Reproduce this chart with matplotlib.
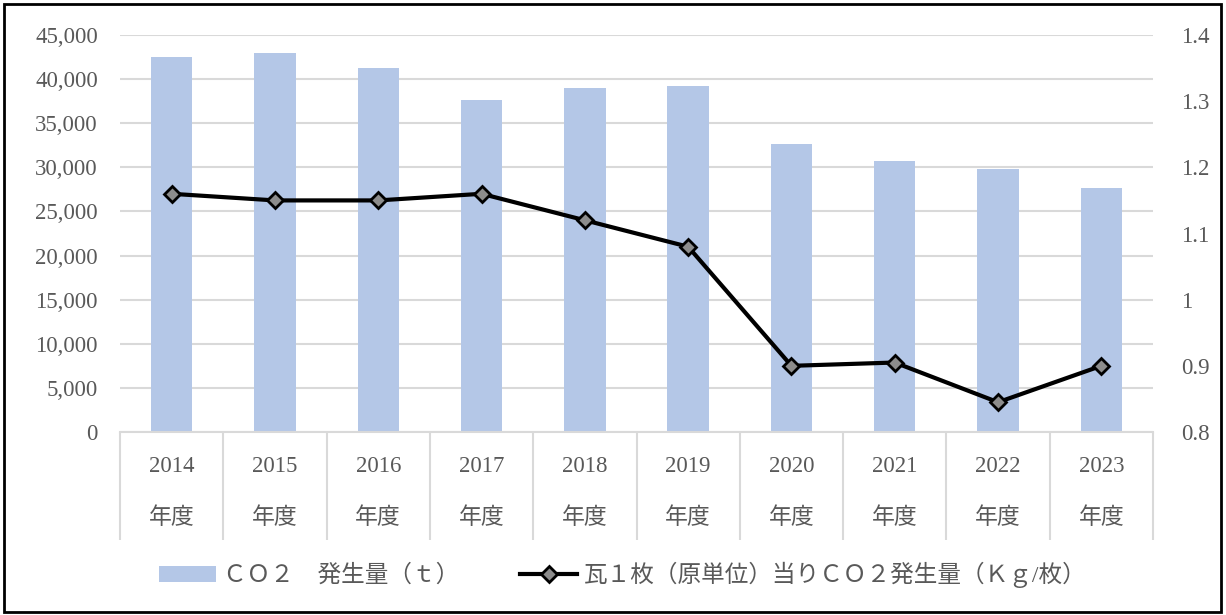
import numpy as np
import matplotlib
matplotlib.use('Agg')
import matplotlib.pyplot as plt
from matplotlib.patches import Rectangle

plt.rcParams['font.family'] = ['Liberation Serif', 'Noto Sans CJK JP', 'DejaVu Sans']

# ---- données ----
years = ['2014', '2015', '2016', '2017', '2018', '2019', '2020', '2021', '2022', '2023']
co2_t = [42500, 43000, 41300, 37600, 39000, 39200, 32700, 30700, 29800, 27700]
co2_per_tile = [1.16, 1.15, 1.15, 1.16, 1.12, 1.08, 0.90, 0.905, 0.845, 0.90]
bar_label = 'ＣＯ２　発生量（ｔ）'
line_label = '瓦１枚（原単位）当りＣＯ２発生量（Ｋｇ/枚）'
left_ticks = np.arange(0, 45001, 5000)
right_ticks = [0.8, 0.9, 1.0, 1.1, 1.2, 1.3, 1.4]
right_tick_labels = ['0.8', '0.9', '1', '1.1', '1.2', '1.3', '1.4']

grey_txt = '#595959'
grid_c = '#d9d9d9'

fig = plt.figure(figsize=(12.26, 6.15), dpi=100)
ax = fig.add_axes([120/1226, 1 - 432/615, (1153 - 120)/1226, (432 - 35)/615])
x = np.arange(len(years))

ax.bar(x, co2_t, width=0.4, color='#b4c7e7', zorder=2, label=bar_label)
ax.set_ylim(0, 45000)
ax.set_xlim(-0.5, len(years) - 0.5)
ax.set_yticks(left_ticks)
ax.set_yticklabels([f'{v:,}' for v in left_ticks])
ax.yaxis.grid(True, color=grid_c, linewidth=1.5, zorder=0)
ax.set_axisbelow(True)
for s in ['top', 'left', 'right']:
    ax.spines[s].set_visible(False)
ax.spines['bottom'].set_color(grid_c)
ax.spines['bottom'].set_linewidth(1.5)
ax.tick_params(axis='y', length=0, pad=16, labelsize=16.5, labelcolor=grey_txt)

# étiquettes de catégorie sur deux lignes + séparateurs verticaux
ax.set_xticks(x)
ax.set_xticklabels([f'{y}\n年度' for y in years])
ax.set_xticks(np.arange(-0.5, len(years)), minor=True)
ax.tick_params(axis='x', which='major', length=0, pad=17, labelsize=16.5, labelcolor=grey_txt)
ax.tick_params(axis='x', which='minor', length=78, width=1.5, color=grid_c, direction='out')
for lab in ax.get_xticklabels():
    lab.set_linespacing(2.85)

ax2 = ax.twinx()
ax2.plot(x, co2_per_tile, color='black', linewidth=3, marker='D', markersize=8,
         markerfacecolor='#8c8c8c', markeredgecolor='black', markeredgewidth=2,
         zorder=3, label=line_label)
ax2.set_ylim(0.8, 1.4)
ax2.set_yticks(right_ticks)
ax2.set_yticklabels(right_tick_labels)
for s in ax2.spines.values():
    s.set_visible(False)
ax2.tick_params(axis='y', length=0, pad=20, labelsize=16.5, labelcolor=grey_txt)

h1, l1 = ax.get_legend_handles_labels()
h2, l2 = ax2.get_legend_handles_labels()
leg = fig.legend(h1 + h2, l1 + l2, loc='center', ncol=2, frameon=False,
                 bbox_to_anchor=(0.5 + 10/1226, 1 - 575/615), fontsize=17,
                 handlelength=2.4, columnspacing=2.6, handletextpad=0.3)
for t in leg.get_texts():
    t.set_color(grey_txt)

fig.patches.append(Rectangle((4/1226, 3/615), 1217/1226, 608/615, transform=fig.transFigure,
                             fill=False, edgecolor='black', linewidth=2))

plt.savefig('out.png', dpi=100)
